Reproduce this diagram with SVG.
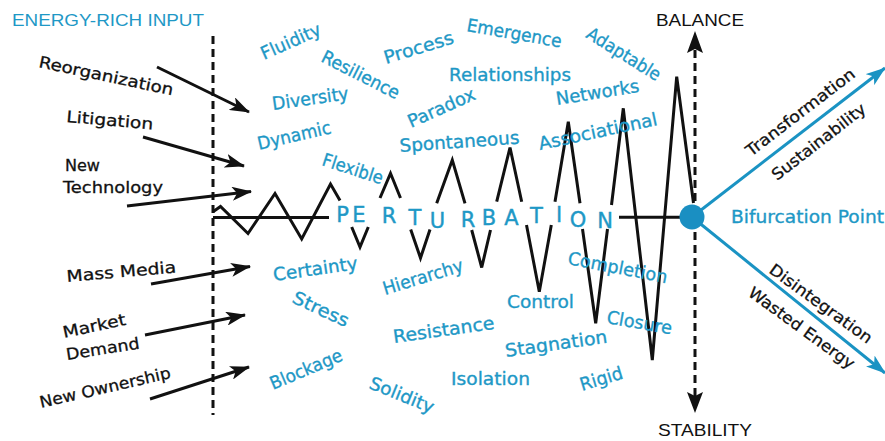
<svg xmlns="http://www.w3.org/2000/svg" width="885" height="441" viewBox="0 0 885 441">
<defs>
<style>
.bl{font-family:"DejaVu Sans",sans-serif;font-size:18px;fill:#1e98c6;stroke:#1e98c6;stroke-width:0.35}
.bk{font-family:"DejaVu Sans",sans-serif;font-size:16px;fill:#111;stroke:#111;stroke-width:0.3}
.cap{font-family:"Liberation Sans",Arial,sans-serif;font-size:17px}
.pt{font-family:"DejaVu Sans",sans-serif;font-size:21px;fill:#1e98c6;stroke:#1e98c6;stroke-width:0.4;text-anchor:middle}
.zz{fill:none;stroke:#111;stroke-width:3;stroke-linejoin:miter}
.dash{stroke:#111;stroke-width:3;stroke-dasharray:8 5;fill:none}
.ar{stroke:#111;stroke-width:3;fill:none}
.ba{stroke:#1a93c3;stroke-width:3;fill:none}
</style>
<marker id="ah" markerUnits="userSpaceOnUse" viewBox="0 0 20 14" markerWidth="20" markerHeight="14" refX="19" refY="7" orient="auto">
<path d="M0,0 L20,7 L0,14 L5,7 z" fill="#111"/>
</marker>
<marker id="bh" markerUnits="userSpaceOnUse" viewBox="0 0 20 14" markerWidth="20" markerHeight="14" refX="19" refY="7" orient="auto">
<path d="M0,0 L20,7 L0,14 L5,7 z" fill="#1a93c3"/>
</marker>
</defs>
<rect width="885" height="441" fill="#fff"/>

<g id="connectors">
<line class="dash" x1="213" y1="36" x2="213" y2="415"/>
<line class="dash" x1="695" y1="50" x2="695" y2="396"/>
<path d="M695,31 L703,53 L695,49 L687,53 z" fill="#111"/>
<path d="M695,413 L703,392 L695,396 L687,392 z" fill="#111"/>
<line class="ar" x1="157" y1="67" x2="249" y2="112" marker-end="url(#ah)"/>
<line class="ar" x1="143" y1="137" x2="244" y2="166" marker-end="url(#ah)"/>
<line class="ar" x1="127" y1="206" x2="251" y2="191.5" marker-end="url(#ah)"/>
<line class="ar" x1="151" y1="284" x2="250" y2="266.5" marker-end="url(#ah)"/>
<line class="ar" x1="145" y1="335" x2="245" y2="315" marker-end="url(#ah)"/>
<line class="ar" x1="150" y1="399" x2="249" y2="367" marker-end="url(#ah)"/>
<g id="wave">
<polyline class="zz" points="213,211.7 220.5,206.5 248,233.5 275,193.5 301.7,239 330.5,184 340,200.5"/>
<line class="zz" x1="213" y1="217.5" x2="329" y2="217.5"/>
<polyline class="zz" points="351.7,227 360,247 368.3,227"/>
<polyline class="zz" points="380,198 390.5,173.3 400.5,198"/>
<polyline class="zz" points="410.7,229.5 420.5,258 430,229.5"/>
<polyline class="zz" points="436.7,203.3 452.3,160 465,203.3"/>
<polyline class="zz" points="471.7,230 481.7,267.5 490.5,230"/>
<polyline class="zz" points="496.7,201.7 510,147.5 521.7,201.7"/>
<polyline class="zz" points="526.5,225 539.3,291.7 551.3,225"/>
<polyline class="zz" points="555,201.7 568.3,121.7 580,203.3"/>
<polyline class="zz" points="582.5,229 595.7,323.3 607.5,229"/>
<polyline class="zz" points="611.5,205 623.3,108.3 652.3,360 676.7,76.7 693.5,203"/>
<line class="zz" x1="619" y1="217.3" x2="692" y2="217.3"/>
</g>
<line class="ba" x1="692" y1="217" x2="885" y2="68" marker-end="url(#bh)"/>
<line class="ba" x1="692" y1="217" x2="885" y2="373" marker-end="url(#bh)"/>
</g>

<g id="bifurcation-point">
<circle cx="692" cy="217" r="12.5" fill="#1a8fc2"/>
<text class="bl" x="731" y="223" font-size="17" textLength="153" lengthAdjust="spacingAndGlyphs">Bifurcation Point</text>
</g>

<g id="header">
<text class="cap" x="12" y="26" fill="#1e98c6" textLength="192" lengthAdjust="spacingAndGlyphs">ENERGY-RICH INPUT</text>
</g>
<g id="balance"><text class="cap" x="656" y="26" fill="#111" textLength="88" lengthAdjust="spacingAndGlyphs">BALANCE</text></g>
<g id="stability"><text class="cap" x="658" y="436" fill="#111" font-size="16" textLength="94" lengthAdjust="spacingAndGlyphs">STABILITY</text></g>

<g id="inputs">
<text class="bk" x="38" y="67" transform="rotate(12 38 67)" textLength="137" lengthAdjust="spacingAndGlyphs">Reorganization</text>
<text class="bk" x="66" y="122" transform="rotate(5 66 122)" textLength="87" lengthAdjust="spacingAndGlyphs">Litigation</text>
<text class="bk" x="65" y="171" textLength="35" lengthAdjust="spacingAndGlyphs">New</text>
<text class="bk" x="63" y="193" textLength="100" lengthAdjust="spacingAndGlyphs">Technology</text>
<text class="bk" x="67" y="282" transform="rotate(-5 67 282)" textLength="110" lengthAdjust="spacingAndGlyphs">Mass Media</text>
<text class="bk" x="64" y="338" transform="rotate(-12 64 338)" textLength="64" lengthAdjust="spacingAndGlyphs">Market</text>
<text class="bk" x="67" y="360" transform="rotate(-9 67 360)" textLength="74" lengthAdjust="spacingAndGlyphs">Demand</text>
<text class="bk" x="41" y="408" transform="rotate(-13 41 408)" textLength="134" lengthAdjust="spacingAndGlyphs">New Ownership</text>
</g>

<g id="words">
<text class="bl" x="264" y="60" transform="rotate(-24 264 60)" textLength="64" lengthAdjust="spacingAndGlyphs">Fluidity</text>
<text class="bl" x="320" y="61" transform="rotate(27 320 61)" textLength="85" lengthAdjust="spacingAndGlyphs">Resilience</text>
<text class="bl" x="386" y="64" transform="rotate(-17 386 64)" textLength="72" lengthAdjust="spacingAndGlyphs">Process</text>
<text class="bl" x="466" y="31" transform="rotate(10 466 31)" textLength="96" lengthAdjust="spacingAndGlyphs">Emergence</text>
<text class="bl" x="585" y="37" transform="rotate(32 585 37)" textLength="84" lengthAdjust="spacingAndGlyphs">Adaptable</text>
<text class="bl" x="449" y="81" textLength="122" lengthAdjust="spacingAndGlyphs">Relationships</text>
<text class="bl" x="273" y="110" transform="rotate(-8 273 110)" textLength="77" lengthAdjust="spacingAndGlyphs">Diversity</text>
<text class="bl" x="411" y="128" transform="rotate(-24 411 128)" textLength="72" lengthAdjust="spacingAndGlyphs">Paradox</text>
<text class="bl" x="557" y="105" transform="rotate(-9 557 105)" textLength="84" lengthAdjust="spacingAndGlyphs">Networks</text>
<text class="bl" x="540" y="150" transform="rotate(-12 540 150)" textLength="121" lengthAdjust="spacingAndGlyphs">Associational</text>
<text class="bl" x="259" y="150" transform="rotate(-13 259 150)" textLength="75" lengthAdjust="spacingAndGlyphs">Dynamic</text>
<text class="bl" x="400" y="152" transform="rotate(-4 400 152)" textLength="120" lengthAdjust="spacingAndGlyphs">Spontaneous</text>
<text class="bl" x="321" y="165" transform="rotate(18 321 165)" textLength="63" lengthAdjust="spacingAndGlyphs">Flexible</text>
<text class="bl" x="274" y="281" transform="rotate(-8 274 281)" textLength="85" lengthAdjust="spacingAndGlyphs">Certainty</text>
<text class="bl" x="291" y="302" transform="rotate(25 291 302)" textLength="60" lengthAdjust="spacingAndGlyphs">Stress</text>
<text class="bl" x="273" y="390" transform="rotate(-23 273 390)" textLength="77" lengthAdjust="spacingAndGlyphs">Blockage</text>
<text class="bl" x="368" y="388" transform="rotate(22 368 388)" textLength="68" lengthAdjust="spacingAndGlyphs">Solidity</text>
<text class="bl" x="385" y="295" transform="rotate(-17 385 295)" textLength="83" lengthAdjust="spacingAndGlyphs">Hierarchy</text>
<text class="bl" x="394" y="343" transform="rotate(-8 394 343)" textLength="102" lengthAdjust="spacingAndGlyphs">Resistance</text>
<text class="bl" x="507" y="308" textLength="67" lengthAdjust="spacingAndGlyphs">Control</text>
<text class="bl" x="506" y="357" transform="rotate(-8 506 357)" textLength="103" lengthAdjust="spacingAndGlyphs">Stagnation</text>
<text class="bl" x="451" y="385" textLength="79" lengthAdjust="spacingAndGlyphs">Isolation</text>
<text class="bl" x="582" y="391" transform="rotate(-17 582 391)" textLength="44" lengthAdjust="spacingAndGlyphs">Rigid</text>
<text class="bl" x="567" y="264" transform="rotate(11 567 264)" textLength="101" lengthAdjust="spacingAndGlyphs">Completion</text>
<text class="bl" x="606" y="323" transform="rotate(10 606 323)" textLength="66" lengthAdjust="spacingAndGlyphs">Closure</text>
</g>

<g id="perturbation">
<text class="pt" x="342.5" y="222">P</text>
<text class="pt" x="359" y="222">E</text>
<text class="pt" x="389" y="223">R</text>
<text class="pt" x="415" y="225">T</text>
<text class="pt" x="437.5" y="228">U</text>
<text class="pt" x="468" y="227">R</text>
<text class="pt" x="489" y="225">B</text>
<text class="pt" x="511.5" y="225">A</text>
<text class="pt" x="536.5" y="223">T</text>
<text class="pt" x="559" y="222">I</text>
<text class="pt" x="578" y="227">O</text>
<text class="pt" x="605" y="228">N</text>
</g>

<g id="outcomes">
<text class="bk" x="751" y="157" font-size="17" transform="rotate(-37.5 751 157)" textLength="133" lengthAdjust="spacingAndGlyphs">Transformation</text>
<text class="bk" x="777" y="181" font-size="17" transform="rotate(-37.8 777 181)" textLength="114" lengthAdjust="spacingAndGlyphs">Sustainability</text>
<text class="bk" x="768" y="272" font-size="17" transform="rotate(36 768 272)" textLength="123" lengthAdjust="spacingAndGlyphs">Disintegration</text>
<text class="bk" x="747" y="295" font-size="17" transform="rotate(36 747 295)" textLength="127" lengthAdjust="spacingAndGlyphs">Wasted Energy</text>
</g>
</svg>
